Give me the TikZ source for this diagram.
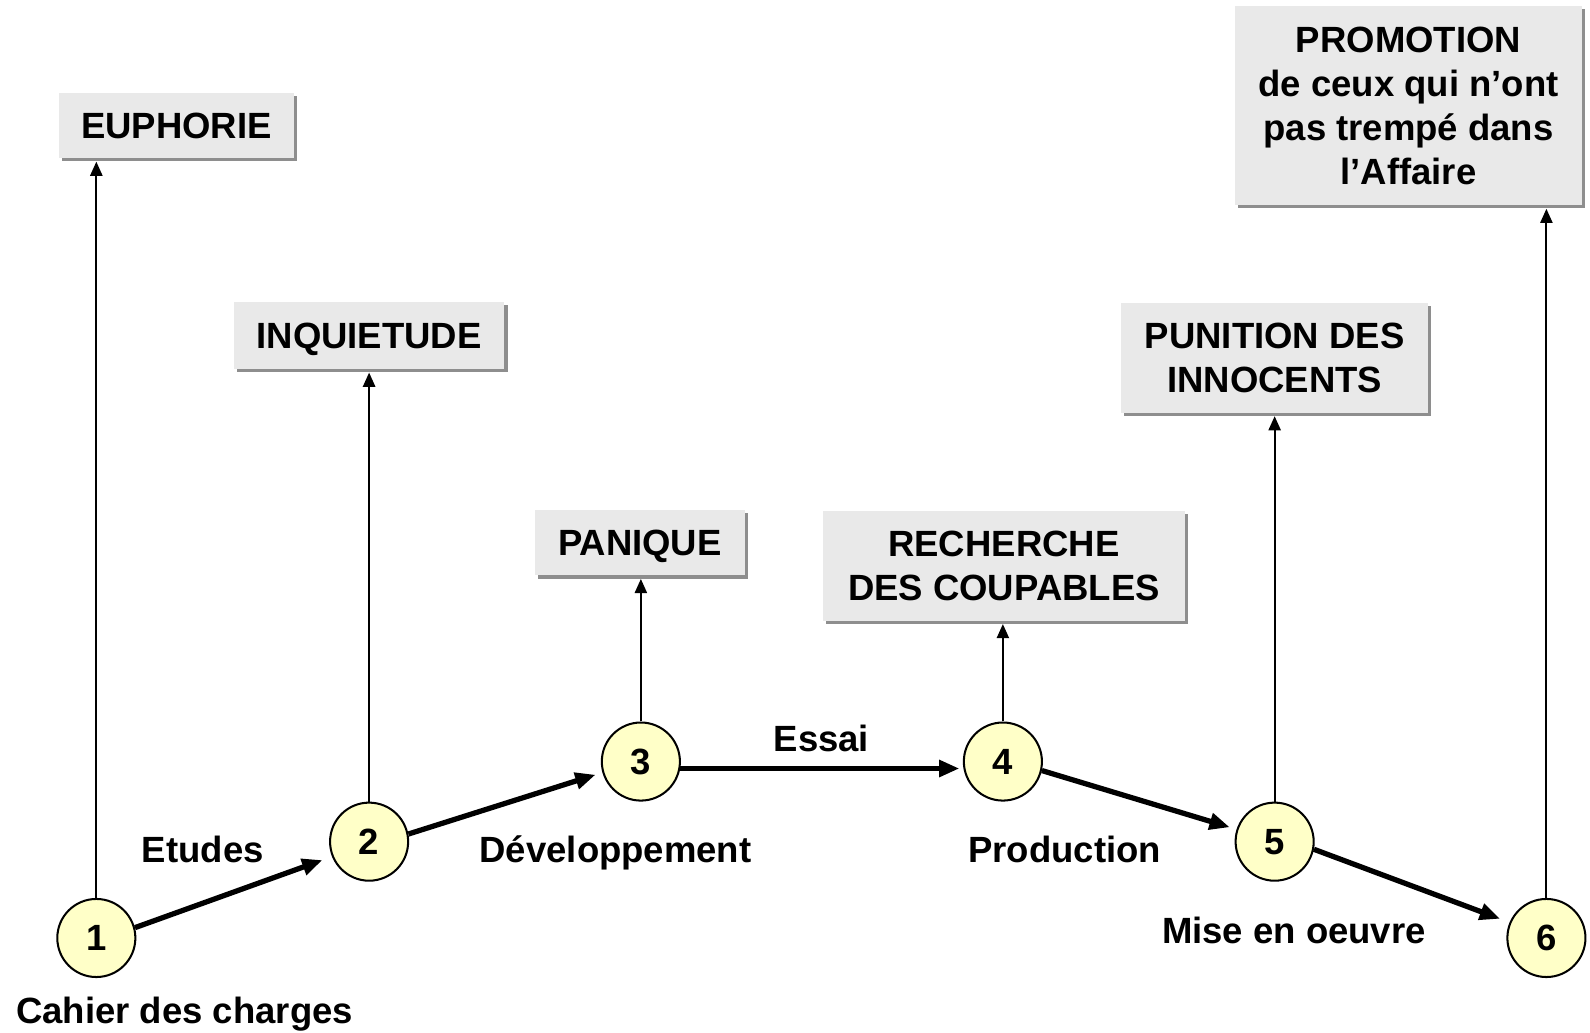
\documentclass[tikz,border=0pt]{standalone}
\usepackage{fontspec}
\setmainfont{Liberation Sans}
\usetikzlibrary{arrows.meta,shadows,calc}
\definecolor{boxgray}{HTML}{E9E9E9}
\definecolor{shadowgray}{HTML}{8E8E8E}
\definecolor{stagefill}{HTML}{FFFFC8}
\begin{document}
\begin{tikzpicture}[x=0.5pt,y=-0.5pt,
  every node/.style={font=\fontsize{18}{21.7}\selectfont\bfseries},
  box/.style={fill=boxgray, inner sep=0pt,
    drop shadow={shadow xshift=1.5pt, shadow yshift=-1.5pt, fill=shadowgray, opacity=1}},
  sbox/.style={box, text depth=0pt},
  mbox/.style={box, align=center},
  stage/.style={circle, draw, line width=1pt, fill=stagefill, minimum size=38.5pt, inner sep=0pt},
  flow/.style={line width=2.6pt, -{Triangle[length=10pt,width=8pt]}, shorten >=3.5pt},
  upline/.style={line width=1pt, -{Triangle[length=7pt,width=6pt]}, shorten >=1.5pt},
  lbl/.style={anchor=base}]
\useasboundingbox (0,0) rectangle (1568,1018);

% boxes
\node[sbox, minimum width=116pt, minimum height=32pt] (eup) at (174,124) {EUPHORIE};
\node[sbox, minimum width=133.5pt, minimum height=33pt] (inq) at (364,331) {INQUIETUDE};
\node[sbox, minimum width=103.5pt, minimum height=32.5pt] (pan) at (631,535) {PANIQUE};
\node[mbox, minimum width=178.5pt, minimum height=54pt] (rec) at (990,558) {RECHERCHE\\DES COUPABLES};
\node[mbox, minimum width=151.5pt, minimum height=54pt] (pun) at (1257,353) {PUNITION DES\\INNOCENTS};
\node[mbox, minimum width=171.5pt, minimum height=98.5pt] (pro) at (1389,104) {PROMOTION\\de ceux qui n’ont\\pas trempé dans\\l’Affaire};

% stages
\node[stage] (c1) at (95,925) {1};
\node[stage] (c2) at (364,830) {2};
\node[stage] (c3) at (632,751) {3};
\node[stage] (c4) at (989,751) {4};
\node[stage] (c5) at (1257,830) {5};
\node[stage] (c6) at (1525,925) {6};

% vertical arrows
\draw[upline] (c1.north) -- (c1.north |- eup.south);
\draw[upline] (c2.north) -- (c2.north |- inq.south);
\draw[upline] (c3.north) -- (c3.north |- pan.south);
\draw[upline] (c4.north) -- (c4.north |- rec.south);
\draw[upline] (c5.north) -- (c5.north |- pun.south);
\draw[upline] (c6.north) -- (c6.north |- pro.south);

% flow arrows
\draw[flow, shorten >=5pt] (c1.15) -- (c2.202);
\draw[flow] (c2.11) -- (c3.196);
\draw[flow, shorten >=2pt] (c3.-10) -- (c4.190);
\draw[flow] (c4.-13) -- (c5.162);
\draw[flow, shorten >=5pt] (c5.-11) -- (c6.157);

% labels
\node[lbl] (l1) at (200,851) {Etudes};
\node[lbl] (l2) at (607,851) {Développement};
\node[lbl] (l3) at (810,741) {Essai};
\node[lbl] (l4) at (1050,851) {Production};
\node[lbl] (l5) at (1276,930) {Mise en oeuvre};
\node[lbl] (l6) at (182,1009) {Cahier des charges};
\end{tikzpicture}
\end{document}
